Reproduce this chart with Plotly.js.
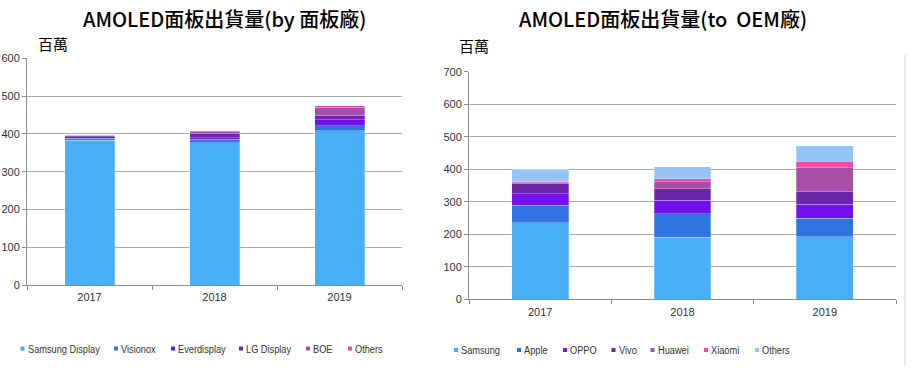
<!DOCTYPE html>
<html>
<head>
<meta charset="utf-8">
<script src="https://cdn.plot.ly/plotly-3.0.1.min.js"></script>
<style>
html,body{margin:0;padding:0;background:#fff;}
#chart{width:920px;height:375px;}
.annotation-text[style*="Liberation Sans"]{transform-box:fill-box;transform-origin:left center;transform:scaleX(0.84);}
</style>
</head>
<body>
<div id="chart"></div>
<script>
// ---- Data ----
const years = ['2017', '2018', '2019'];

// Left chart: by panel maker (百萬)
const makerNames = ['Samsung Display', 'Visionox', 'Everdisplay', 'LG Display', 'BOE', 'Others'];
const samsungDisplay = [383, 377, 408];
const visionox = [6, 9, 13];
const everdisplay = [3, 4, 16];
const lgDisplay = [3, 11, 12];
const boe = [2, 4, 21];
const makerOthers = [1, 3, 4];

// Right chart: to OEM (百萬)
const oemNames = ['Samsung', 'Apple', 'OPPO', 'Vivo', 'Huawei', 'Xiaomi', 'Others'];
const samsung = [236, 191, 193];
const apple = [54, 72, 57];
const oppo = [35, 41, 42];
const vivo = [30, 36, 39];
const huawei = [4, 21, 73];
const xiaomi = [3, 10, 21];
const oemOthers = [38, 36, 48];

const leftTitle = 'AMOLED面板出貨量(by 面板廠)';
const rightTitle = 'AMOLED面板出貨量(to  OEM廠)';
const unitLabel = '百萬';
const leftTicks = [0, 100, 200, 300, 400, 500, 600];
const rightTicks = [0, 100, 200, 300, 400, 500, 600, 700];

// ---- Styles ----
const makerColors = ['#48aef5', '#2f73e0', '#7410ee', '#6a28a8', '#a64fa8', '#ee4aa6'];
const oemColors = ['#48aef5', '#2f73e0', '#7410ee', '#6a28a8', '#a64fa8', '#ee4aa6', '#95c5f7'];
const sans = '"Liberation Sans", Arial, sans-serif';
const cjk = '"Noto Sans CJK TC", "Noto Sans CJK SC", sans-serif';
const W = 920, H = 375;
const px = x => x / W;
const py = y => 1 - y / H;

const makerSeries = [samsungDisplay, visionox, everdisplay, lgDisplay, boe, makerOthers];
const oemSeries = [samsung, apple, oppo, vivo, huawei, xiaomi, oemOthers];

const traces = [];
makerSeries.forEach((vals, i) => {
  traces.push({
    type: 'bar', x: years, y: vals, name: makerNames[i], xaxis: 'x', yaxis: 'y',
    marker: {color: makerColors[i], line: {color: 'rgba(255,255,255,0.45)', width: 0.6}},
    showlegend: false, hoverinfo: 'skip'
  });
});
oemSeries.forEach((vals, i) => {
  traces.push({
    type: 'bar', x: years, y: vals, name: oemNames[i], xaxis: 'x2', yaxis: 'y2',
    marker: {color: oemColors[i], line: {color: 'rgba(255,255,255,0.45)', width: 0.6}},
    showlegend: false, hoverinfo: 'skip'
  });
});

const axisCommonX = {
  type: 'category', showline: true, linecolor: '#8c8c8c', linewidth: 1,
  ticks: 'outside', tickson: 'boundaries', ticklen: 4, tickcolor: '#8c8c8c', ticklabelstandoff: 2,
  tickfont: {family: sans, size: 11, color: '#333'}, showgrid: false, fixedrange: true
};
const axisCommonY = {
  showline: true, linecolor: '#8c8c8c', linewidth: 1, ticks: 'outside', ticklen: 4,
  tickcolor: '#8c8c8c', showgrid: true, gridcolor: '#ababab', gridwidth: 1, zeroline: false,
  tickfont: {family: sans, size: 11, color: '#333'}, fixedrange: true
};

const annotations = [
  {text: leftTitle, x: px(224), y: py(19), xref: 'paper', yref: 'paper', xanchor: 'center', yanchor: 'middle', showarrow: false,
   font: {family: cjk, size: 20, color: '#000', weight: 500}},
  {text: rightTitle, x: px(663), y: py(19), xref: 'paper', yref: 'paper', xanchor: 'center', yanchor: 'middle', showarrow: false,
   font: {family: cjk, size: 20, color: '#000', weight: 500}},
  {text: unitLabel, x: px(36), y: py(43), xref: 'paper', yref: 'paper', xanchor: 'left', yanchor: 'middle', showarrow: false,
   font: {family: cjk, size: 15, color: '#000'}},
  {text: unitLabel, x: px(457), y: py(45), xref: 'paper', yref: 'paper', xanchor: 'left', yanchor: 'middle', showarrow: false,
   font: {family: cjk, size: 15, color: '#000'}}
];
const shapes = [
  {type: 'line', xref: 'paper', yref: 'paper', x0: px(905), x1: px(905), y0: py(55), y1: py(365), line: {color: '#d4d4d4', width: 1}}
];

// manual legends
const leftLegendX = [20.5, 114, 171, 239, 306, 348];
const rightLegendX = [454, 517, 563, 611.5, 650.5, 704, 755];
function addLegend(names, colors, xs, yc) {
  names.forEach((n, i) => {
    shapes.push({type: 'rect', xref: 'paper', yref: 'paper', x0: px(xs[i]), x1: px(xs[i] + 4), y0: py(yc + 2), y1: py(yc - 2),
      fillcolor: colors[i], line: {width: 0}});
    annotations.push({text: n, x: px(xs[i] + 5), y: py(yc), xref: 'paper', yref: 'paper', xanchor: 'left', yanchor: 'middle',
      showarrow: false, font: {family: sans, size: 11, color: '#333'}});
  });
}
addLegend(makerNames, makerColors, leftLegendX, 348.5);
addLegend(oemNames, oemColors, rightLegendX, 350);

const layout = {
  width: W, height: H, margin: {l: 0, r: 0, t: 0, b: 0},
  paper_bgcolor: '#fff', plot_bgcolor: '#fff',
  barmode: 'stack', bargap: 0.6, showlegend: false,
  xaxis: Object.assign({}, axisCommonX, {domain: [px(27), px(402)], anchor: 'y', range: [-0.5, 2.5]}),
  yaxis: Object.assign({}, axisCommonY, {domain: [py(285), py(58.3)], anchor: 'x', range: [0, 600], tickvals: leftTicks}),
  xaxis2: Object.assign({}, axisCommonX, {domain: [px(469), px(896)], anchor: 'y2', range: [-0.5, 2.5]}),
  yaxis2: Object.assign({}, axisCommonY, {domain: [py(299.3), py(71.7)], anchor: 'x2', range: [0, 700], tickvals: rightTicks}),
  annotations: annotations, shapes: shapes
};

Plotly.newPlot('chart', traces, layout, {displayModeBar: false, staticPlot: true});
</script>
</body>
</html>
